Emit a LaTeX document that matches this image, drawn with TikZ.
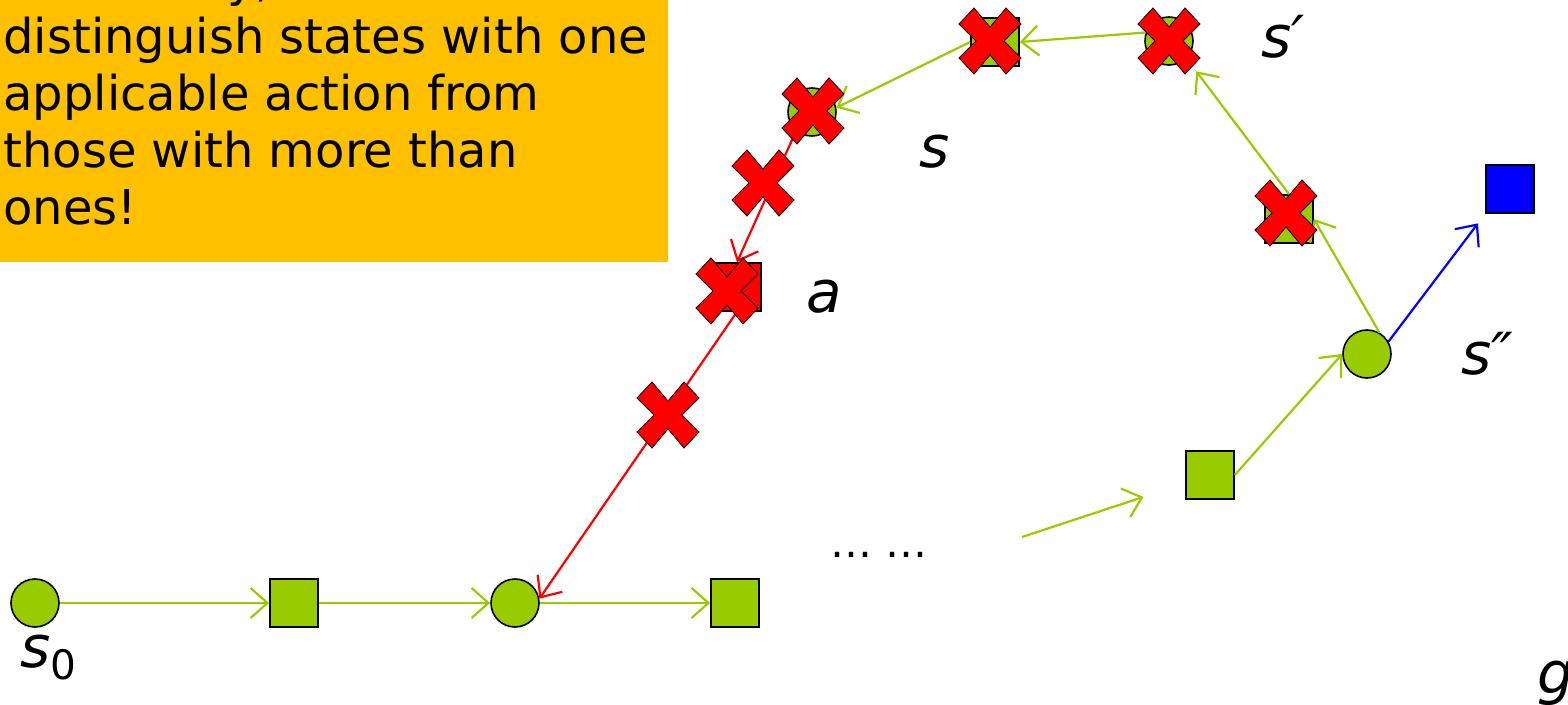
\documentclass[tikz,border=0pt]{standalone}
\usepackage{fontspec}
\setmainfont{DejaVu Sans}
\usetikzlibrary{arrows.meta}

\definecolor{leaf}{HTML}{99CC00}
\definecolor{amber}{HTML}{FFC000}

\tikzset{
  state/.style={circle,draw=black,line width=0.8pt,fill=leaf,minimum size=24pt,inner sep=0pt},
  act/.style={rectangle,draw=black,line width=0.8pt,fill=leaf,minimum size=24pt,inner sep=0pt},
  move/.style={draw=leaf,line width=1.1pt,-{Straight Barb[length=8.5pt,width=15pt]}},
  lbl/.style={anchor=base west,inner sep=0pt,font=\fontsize{29}{34}\selectfont\itshape},
  nogo/.style={fill=red,draw=black,line width=0.4pt,line join=miter}
}

\begin{document}
\begin{tikzpicture}[x=0.5pt,y=-0.5pt]

      \useasboundingbox (0,0) rectangle (1568,705);

      \fill[amber] (0,0) rectangle (668,262); % note box
      \node[anchor=base west,align=left,inner sep=0pt,font=\fontsize{24}{28.5}\selectfont] (note) at (3,225)
        {\hspace*{4.67em}y,\\distinguish states with one\\applicable action from\\those with more than\\ones!};

      % bottom row
      \node[state] (s0) at (35,603) {};
      \node[act]   (a0) at (294,603) {};
      \node[state] (s1) at (515,603) {};
      \node[act]   (a1) at (735,603) {};

      % right branch
      \node[act]   (ak) at (1210,475) {};
      \node[state] (s2) at (1367,354) {};
      \node[act,fill=blue] (goal) at (1510,189) {};
      \node[act]   (a4) at (1289,219) {};
      \node[state] (s3) at (1169,41) {};
      \node[act]   (a5) at (995,42) {};
      \node[state] (s4) at (812,112) {};
      \node[act,fill=red] (a6) at (737,287) {};

      \coordinate (from) at (1022,537);

      \draw[move] (s0) -- (a0);
      \draw[move] (a0) -- (s1);
      \draw[move] (s1) -- (a1);
      \draw[move,shorten >=22pt] (from) -- (ak);
      \draw[move] (ak.east) -- (s2.west);
      \draw[move,draw=blue,shorten >=6pt] (s2.30) -- (goal.south west);
      \draw[move] (s2.60) -- (a4.east);
      \draw[move,shorten >=8pt] (a4.north) -- (s3.-45);
      \draw[move] (s3.160) -- (a5.east);
      \draw[move] (a5.west) -- (s4.10);
      \draw[move,draw=red] (s4.-130) -- (a6.north); % dead end
      \draw[move,draw=red] (a6.south) -- (s1.10);

      % crossed out
      \foreach \x/\y in {990/41,1169/41,813/111,763/183,727/291,668/415,1286/213}
      \filldraw[nogo,shift={(\x,\y)}] (-31,17) -- (-16,33) -- (0,14) -- (16,33) -- (31,17) -- (14,0)
        -- (31,-17) -- (16,-33) -- (0,-14) -- (-16,-33) -- (-31,-17) -- (-14,0) -- cycle;

      \node[lbl] (ls0) at (20,667) {s\textsubscript{\upshape 0}};
      \node[lbl] (ls) at (919,168) {s};
      \node[lbl] (la) at (806,313) {a};
      \node[lbl] (ls1) at (1261,58) {s′};
      \node[lbl] (ls2) at (1461,375) {s″};
      \node[lbl] (lg) at (1537,693) {g};
      \node[anchor=base,inner sep=0pt,font=\fontsize{21}{26}\selectfont] (dots) at (879,557) {… …};

\end{tikzpicture}
\end{document}
